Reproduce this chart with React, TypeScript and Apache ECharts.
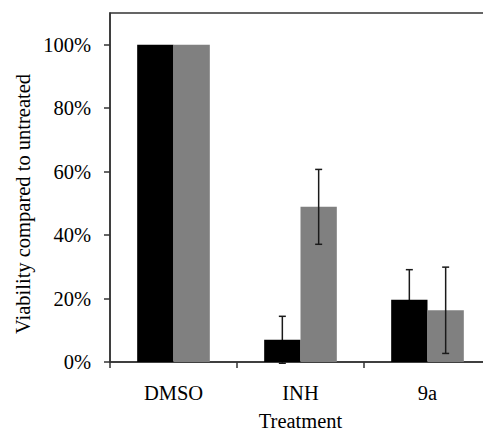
import React, { useEffect, useRef } from "react";
import * as echarts from "echarts";

const categories = ["DMSO", "INH", "9a"];
const blackValues = [100, 7, 19.6];
const grayValues = [100, 48.9, 16.3];
const blackErrors = [0, 7.4, 9.5];
const grayErrors = [0, 11.8, 13.6];
const yTicks = [0, 20, 40, 60, 80, 100];

const FONT = "Liberation Serif";
const FS = 20.5;
const BAR_FRAC = 0.286;

export default function App() {
  const ref = useRef<HTMLDivElement>(null);
  useEffect(() => {
    if (!ref.current) return;
    const chart = echarts.init(ref.current, null, { renderer: "svg" });

    const mkErr = (vals: number[], errs: number[], side: number) => {
      const out: any[] = [];
      vals.forEach((v, i) => {
        if (errs[i] > 0) out.push([i, v, errs[i], side]);
      });
      return out;
    };

    const renderErr = (params: any, api: any) => {
      const idx = api.value(0);
      const val = api.value(1);
      const err = api.value(2);
      const side = api.value(3);
      const catW = api.size([1, 0])[0];
      const off = (side * catW * BAR_FRAC) / 2;
      const top = api.coord([idx, val + err]);
      const bot = api.coord([idx, val - err]);
      const x = top[0] + off;
      const cap = 3.5;
      const style = { stroke: "#1a1a1a", lineWidth: 1.5, fill: null };
      return {
        type: "group",
        children: [
          { type: "line", shape: { x1: x, y1: top[1], x2: x, y2: bot[1] }, style },
          { type: "line", shape: { x1: x - cap, y1: top[1], x2: x + cap, y2: top[1] }, style },
          { type: "line", shape: { x1: x - cap, y1: bot[1], x2: x + cap, y2: bot[1] }, style },
        ],
      };
    };

    const labelStyle = { fontFamily: FONT, fontSize: FS, color: "#000" };

    chart.setOption({
      animation: false,
      backgroundColor: "#fff",
      textStyle: { fontFamily: FONT },
      grid: {
        left: 110,
        top: 13,
        width: 383,
        height: 349,
        show: true,
        borderColor: "#333",
        borderWidth: 1.5,
      },
      xAxis: {
        type: "category",
        data: categories,
        name: "Treatment",
        nameLocation: "middle",
        nameGap: 48,
        nameTextStyle: labelStyle,
        axisLine: { lineStyle: { color: "#333", width: 1.5 } },
        axisTick: { show: true, length: 6, lineStyle: { color: "#333", width: 1.5 } },
        axisLabel: { ...labelStyle, margin: 20 },
      },
      yAxis: {
        type: "value",
        min: 0,
        max: 110,
        interval: 20,
        splitLine: { show: false },
        axisLine: { show: true, lineStyle: { color: "#333", width: 1.5 } },
        axisTick: {
          show: true,
          length: 6,
          customValues: yTicks,
          lineStyle: { color: "#333", width: 1.5 },
        },
        axisLabel: {
          ...labelStyle,
          margin: 19,
          customValues: yTicks,
          formatter: (v: number) => v + "%",
        },
      },
      graphic: [
        {
          type: "text",
          x: 23,
          y: 204,
          rotation: Math.PI / 2,
          style: {
            text: "Viability compared to untreated",
            fontFamily: FONT,
            fontSize: FS,
            fill: "#000",
            textAlign: "center",
            textVerticalAlign: "middle",
          },
        },
      ],
      series: [
        {
          type: "bar",
          data: blackValues,
          barWidth: BAR_FRAC * 100 + "%",
          barGap: "0%",
          itemStyle: { color: "#000" },
          z: 2,
        },
        {
          type: "bar",
          data: grayValues,
          barWidth: BAR_FRAC * 100 + "%",
          barGap: "0%",
          itemStyle: { color: "#808080" },
          z: 2,
        },
        {
          type: "custom",
          renderItem: renderErr,
          data: mkErr(blackValues, blackErrors, -1),
          encode: { x: 0, y: 1 },
          z: 1,
        },
        {
          type: "custom",
          renderItem: renderErr,
          data: mkErr(grayValues, grayErrors, 1),
          encode: { x: 0, y: 1 },
          z: 10,
        },
      ],
    });
    return () => chart.dispose();
  }, []);
  return <div ref={ref} style={{ width: 491, height: 440, margin: -8 }} />;
}
